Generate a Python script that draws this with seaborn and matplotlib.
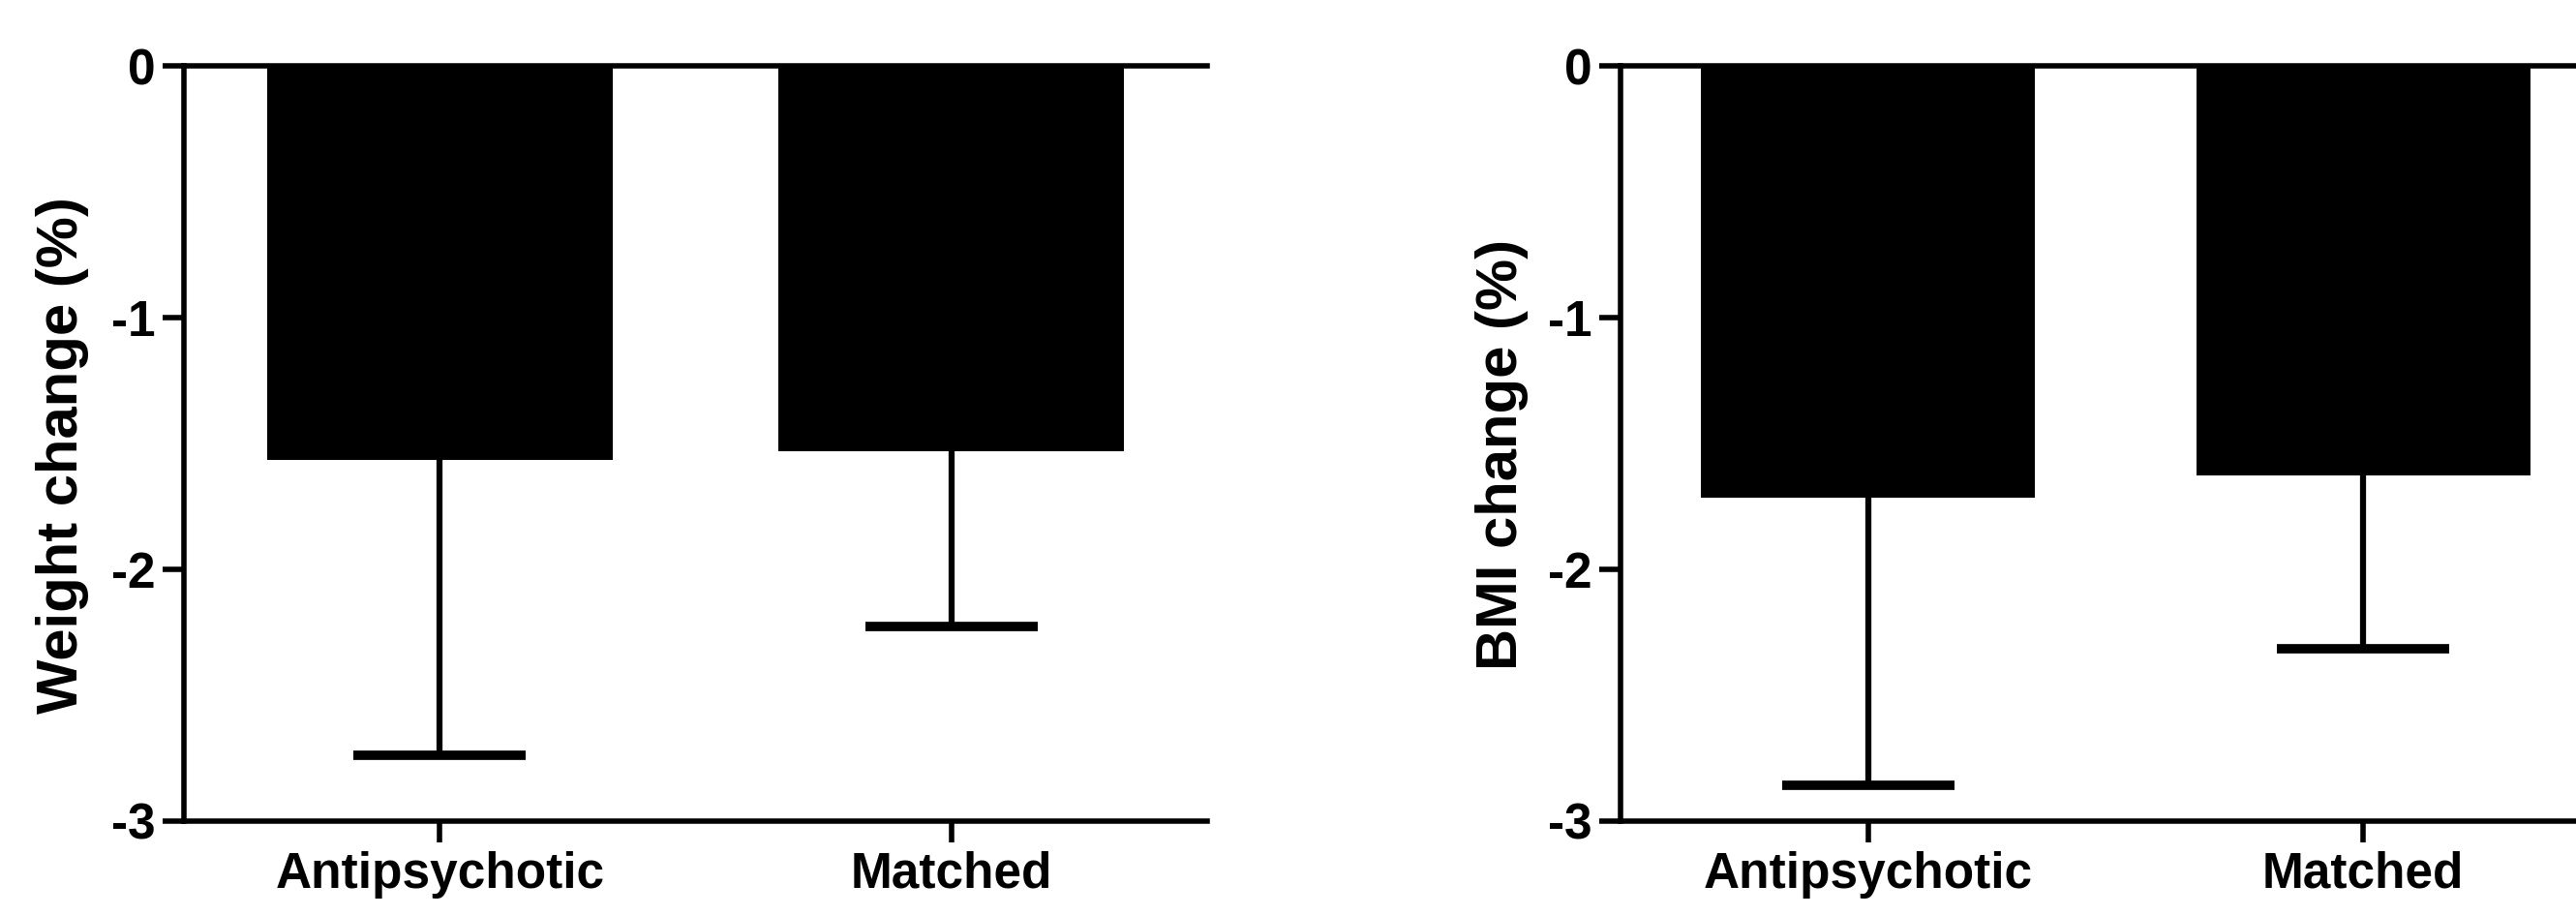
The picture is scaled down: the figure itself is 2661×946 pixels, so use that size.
import pandas as pd
import matplotlib
matplotlib.use('Agg')
import matplotlib.pyplot as plt
import seaborn as sns

# values (percent change, mean and lower end of error bar)
groups = ['Antipsychotic', 'Matched']
weight_mean = [-1.565, -1.53]
weight_low = [-2.737, -2.225]
bmi_mean = [-1.715, -1.625]
bmi_low = [-2.858, -2.317]
y_ticks = [0, -1, -2, -3]
y_tick_labels = ['0', '-1', '-2', '-3']

sns.set_style('white')
plt.rcParams['font.family'] = ['Liberation Sans', 'DejaVu Sans']
plt.rcParams['font.weight'] = 'bold'
plt.rcParams['axes.unicode_minus'] = False

fig = plt.figure(figsize=(26.61, 9.46), dpi=100)
ax1 = fig.add_axes([0.0714, 0.1036, 0.3972, 0.8245])
ax2 = fig.add_axes([0.6291, 0.1036, 0.3844, 0.8245])


def draw_panel(ax, means, lows, ylabel):
    df = pd.DataFrame({'group': groups, 'value': means})
    sns.barplot(data=df, x='group', y='value', color='black', saturation=1,
                width=0.675, errorbar=None, ax=ax, zorder=3, linewidth=0)
    err = [m - l for m, l in zip(means, lows)]
    eb = ax.errorbar(range(len(groups)), means, yerr=[err, [0] * len(err)],
                     fmt='none', ecolor='black', elinewidth=4.5, capsize=64,
                     capthick=7, zorder=2)
    # one-sided bars: drop the cap at the bar end
    eb[1][1].set_visible(False)

    ax.set_ylim(-3, 0)
    ax.set_xlim(-0.5, 1.5)
    ax.set_yticks(y_ticks)
    ax.set_yticklabels(y_tick_labels)
    ax.set_xlabel('')
    ax.set_ylabel(ylabel, fontsize=43, fontweight='bold', color='black')
    ax.yaxis.set_label_coords(-0.093, 0.485)

    for side in ['left', 'bottom', 'top']:
        ax.spines[side].set_visible(True)
        ax.spines[side].set_color('black')
        ax.spines[side].set_linewidth(4)
    ax.spines['right'].set_visible(False)

    ax.tick_params(axis='both', which='major', direction='out', length=16,
                   width=4, color='black', labelsize=37, labelcolor='black')
    ax.tick_params(axis='y', pad=5)
    ax.tick_params(axis='x', pad=6)
    ax.tick_params(top=False, right=False, left=True, bottom=True)
    for lab in ax.get_xticklabels() + ax.get_yticklabels():
        lab.set_fontweight('bold')


draw_panel(ax1, weight_mean, weight_low, 'Weight change (%)')
draw_panel(ax2, bmi_mean, bmi_low, 'BMI change (%)')

fig.savefig('out.png', dpi=100, facecolor='white')
